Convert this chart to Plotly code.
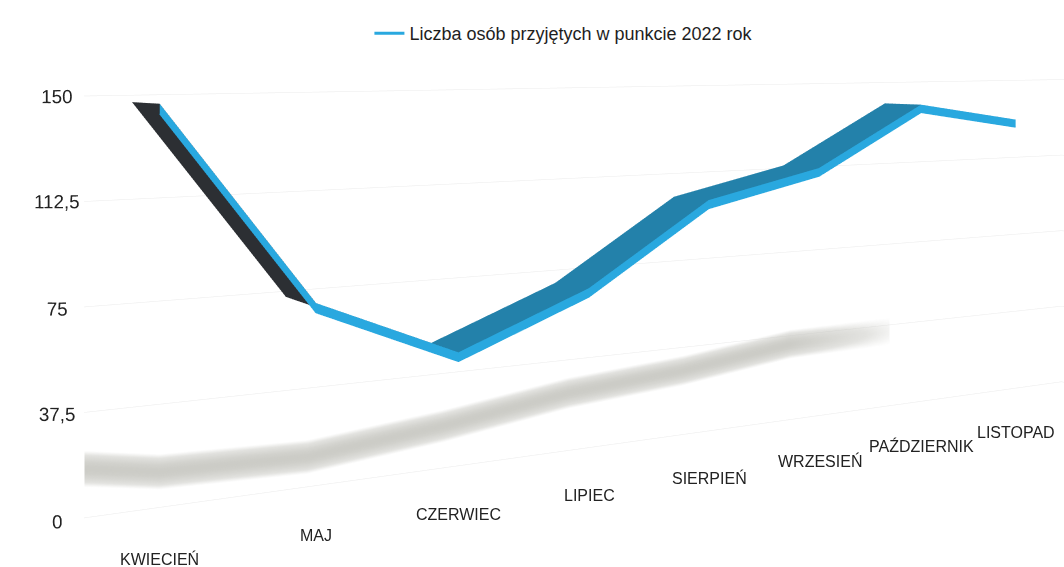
import numpy as np
import plotly.graph_objects as go

# Monthly admissions, 2022
months = ["KWIECIEŃ", "MAJ", "CZERWIEC", "LIPIEC", "SIERPIEŃ", "WRZESIEŃ", "PAŹDZIERNIK", "LISTOPAD"]
admitted = [148, 75, 52, 72, 104, 115, 141, 133]
series_name = "Liczba osób przyjętych w punkcie 2022 rok"

z_tick_vals = [0, 37.5, 75, 112.5, 150]
z_tick_text = ["0", "37,5", "75", "112,5", "150"]

FONT = "Liberation Sans"
TEXT = "#222222"
BLUE_FRONT = "#29a8df"
BLUE_TOP = "#2381aa"
DARK_UNDER = "#2c2f33"
SHADOW = "#c6c6c0"

# The page shows the lower part of a taller canvas, so the camera can stay
# level (vertical edges stay vertical) while the horizon sits near the top.
VIEW_W, VIEW_H = 1064, 567
HORIZON = 38
FIG_H = 2 * (VIEW_H - HORIZON)
HIDDEN_TOP = FIG_H - VIEW_H

x = np.arange(len(months), dtype=float)
v = np.array(admitted, dtype=float)
n = len(x)

# ---- 3D ribbon: top band + vertical front face ----
Y_FRONT, Y_BACK = 0.02, 0.60
DX = 0.14       # slight oblique offset of the band's back edge, in months
THICK = 3.4     # height of the front face, in value units

vx, vy, vz = [], [], []
for xi, vi in zip(x, v):
    vx += [xi, xi - DX, xi]
    vy += [Y_FRONT, Y_BACK, Y_FRONT]
    vz += [vi, vi, vi - THICK]

I, J, K, colors = [], [], [], []
for s in range(n - 1):
    tf0, tb0, bf0 = 3 * s, 3 * s + 1, 3 * s + 2
    tf1, tb1, bf1 = 3 * s + 3, 3 * s + 4, 3 * s + 5
    band_col = BLUE_TOP if v[s + 1] >= v[s] else DARK_UNDER
    I += [tf0, tf0]; J += [tf1, tb1]; K += [tb1, tb0]; colors += [band_col, band_col]
    I += [tf0, tf0]; J += [tf1, bf1]; K += [bf1, bf0]; colors += [BLUE_FRONT, BLUE_FRONT]

ribbon = go.Mesh3d(
    x=vx, y=vy, z=vz, i=I, j=J, k=K, facecolor=colors,
    flatshading=True,
    lighting=dict(ambient=1.0, diffuse=0.0, specular=0.0, fresnel=0.0),
    hoverinfo="skip", showlegend=False,
)

# lower edge of the front face, also used as the legend entry
edge = go.Scatter3d(
    x=x, y=[Y_FRONT] * n, z=v - THICK, mode="lines",
    line=dict(color=BLUE_FRONT, width=3),
    name=series_name, hoverinfo="skip", showlegend=True,
)

# ---- soft shadow cast onto the back wall ----
SH_SHIFT = -0.95
SH_C, SH_E, SH_D = 0.158, 2.06, -0.7
sx = x + SH_SHIFT
sz = SH_C * v + SH_E * x + SH_D
u = np.linspace(-1, 1, 31)
HALF_W = 6.5
SX = np.tile(sx, (len(u), 1))
SY = np.full_like(SX, 0.97)
SZ = sz[None, :] + u[:, None] * HALF_W
across = np.cos(u * np.pi / 2) ** 1.1
along = np.ones(n)
along[-1] = 0.15
SC = across[:, None] * along[None, :]
shadow = go.Surface(
    x=SX, y=SY, z=SZ, surfacecolor=SC, cmin=0, cmax=1,
    colorscale=[[0, SHADOW], [1, SHADOW]],
    opacityscale=[[0, 0.0], [0.35, 0.5], [1, 0.9]],
    showscale=False, hoverinfo="skip",
    lighting=dict(ambient=1.0, diffuse=0.0, specular=0.0, fresnel=0.0),
)

fig = go.Figure([shadow, ribbon, edge])

axis_common = dict(
    showbackground=False, zeroline=False, showline=False, showspikes=False,
    ticks="", title=dict(text=""),
)
z_font = dict(family=FONT, size=15, color=TEXT)
month_font = dict(family=FONT, size=16, color=TEXT)

# month names hang straight below the front edge of the floor
month_labels = [
    dict(x=xi, y=0, z=0, text=m, showarrow=False, yshift=-24,
         xanchor="center", yanchor="middle", font=month_font)
    for xi, m in zip(x, months)
]

fig.update_layout(
    width=VIEW_W, height=FIG_H,
    margin=dict(l=0, r=0, t=0, b=0),
    paper_bgcolor="white",
    showlegend=True,
    legend=dict(
        orientation="h", x=0.53, xanchor="center",
        y=1 - (HIDDEN_TOP + 15) / FIG_H, yanchor="top",
        font=dict(family=FONT, size=18, color="#1e1e1e"),
    ),
    scene=dict(
        domain=dict(x=[0, 1], y=[0, 1]),
        aspectmode="manual",
        aspectratio=dict(x=1.0458, y=0.06, z=0.3418),
        camera=dict(
            eye=dict(x=-0.5947, y=-1.064, z=0.2179),
            center=dict(x=-0.2027, y=-0.144, z=0.2179),
            up=dict(x=0, y=0, z=1),
            projection=dict(type="perspective"),
        ),
        xaxis=dict(
            range=[-0.42, 8.0], tickvals=list(x), showticklabels=False, showgrid=False,
            **axis_common,
        ),
        yaxis=dict(range=[0, 1], showgrid=False, showticklabels=False, **axis_common),
        zaxis=dict(
            range=[0, 150], tickvals=z_tick_vals, ticktext=z_tick_text,
            showgrid=True, gridcolor="#ebebeb", gridwidth=1,
            tickangle=0, tickfont=z_font, **axis_common,
        ),
        annotations=month_labels,
    ),
)

page_js = (
    "document.body.style.margin='0';"
    "document.body.style.overflow='hidden';"
    "document.getElementById('{plot_id}').style.marginTop='-%dpx';" % HIDDEN_TOP
)
fig.write_html("out.html", post_script=page_js)
